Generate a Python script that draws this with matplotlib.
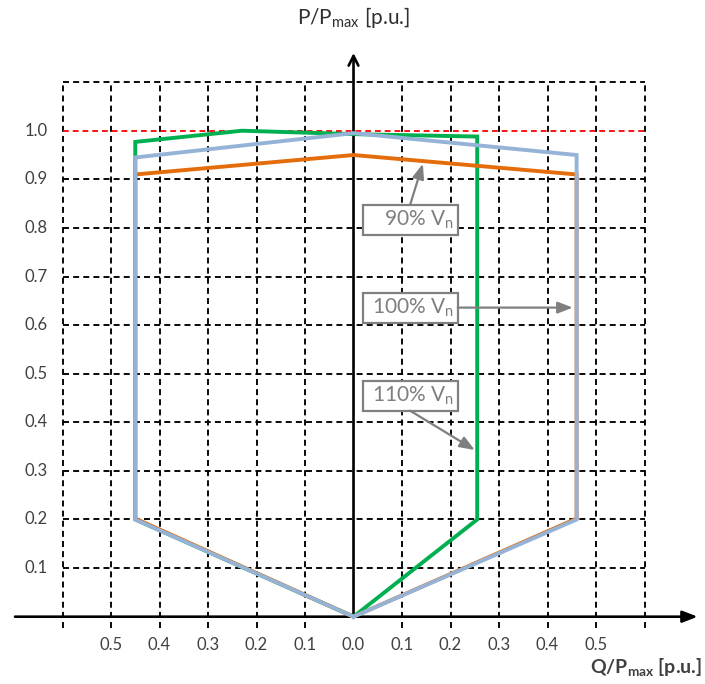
import matplotlib.pyplot as plt
from matplotlib.patches import Rectangle

plt.rcParams['font.family'] = ['Lato', 'DejaVu Sans']
plt.rcParams['mathtext.default'] = 'regular'

# capability curves, Q/Pmax (negative = left side) vs P/Pmax
q_90 = [0, 0.46, 0.46, 0, -0.45, -0.45, 0]
p_90 = [0, 0.202, 0.91, 0.95, 0.91, 0.202, 0]
q_100 = [0, 0.46, 0.46, 0, -0.45, -0.45, 0]
p_100 = [0, 0.2, 0.95, 0.995, 0.945, 0.2, 0]
q_110 = [0, 0.255, 0.255, 0, -0.23, -0.45, -0.45, 0]
p_110 = [0, 0.2, 0.988, 0.993, 1.0, 0.977, 0.2, 0]

p_limit = 1.0
x_grid = [-0.6, -0.5, -0.4, -0.3, -0.2, -0.1, 0.1, 0.2, 0.3, 0.4, 0.5, 0.6]
y_grid = [0.1, 0.2, 0.3, 0.4, 0.5, 0.6, 0.7, 0.8, 0.9, 1.1]
x_ticks = [-0.5, -0.4, -0.3, -0.2, -0.1, 0.0, 0.1, 0.2, 0.3, 0.4, 0.5]
x_tick_labels = ["0.5", "0.4", "0.3", "0.2", "0.1", "0.0", "0.1", "0.2", "0.3", "0.4", "0.5"]
y_ticks = [0.1, 0.2, 0.3, 0.4, 0.5, 0.6, 0.7, 0.8, 0.9, 1.0]
y_tick_labels = ["0.1", "0.2", "0.3", "0.4", "0.5", "0.6", "0.7", "0.8", "0.9", "1.0"]

# annotation boxes: label, box centre, arrow tail, arrow head
notes = [
    ("90% V$_n$", (0.1175, 0.816), (0.1165, 0.847), (0.143, 0.932)),
    ("100% V$_n$", (0.1175, 0.636), (0.215, 0.636), (0.452, 0.636)),
    ("110% V$_n$", (0.1175, 0.455), (0.1165, 0.424), (0.25, 0.343)),
]

fig = plt.figure(figsize=(7.05, 6.84), dpi=100)
ax = fig.add_axes([0, 0, 1, 1])
ax.set_xlim(-0.7289, 0.7247)
ax.set_ylim(-0.1385, 1.269)
ax.axis("off")

grid_style = dict(color="black", lw=1.35, linestyle=(0, (3.2, 2.2)), zorder=1)
for x in x_grid:
    ax.plot([x, x], [-0.023, 1.1], **grid_style)
for y in y_grid:
    ax.plot([-0.6, 0.6], [y, y], **grid_style)

ax.plot([-0.6, 0.6], [p_limit, p_limit], color="#ff0000", lw=1.3,
        linestyle=(0, (3.2, 2.2)), zorder=2)

# axes arrows
ax.annotate("", xy=(0.7095, 0), xytext=(-0.698, 0),
            arrowprops=dict(arrowstyle="-|>,head_length=0.9,head_width=0.35",
                            color="black", lw=1.9, shrinkA=0, shrinkB=0), zorder=3)
ax.annotate("", xy=(0, 1.16), xytext=(0, 0),
            arrowprops=dict(arrowstyle="->,head_length=0.7,head_width=0.35",
                            color="black", lw=1.9, shrinkA=0, shrinkB=0), zorder=3)

ax.plot(q_110, p_110, color="#00b050", lw=2.8, zorder=4, solid_joinstyle="miter")
ax.plot(q_90, p_90, color="#e46c0a", lw=2.8, zorder=5, solid_joinstyle="miter")
ax.plot(q_100, p_100, color="#95b3d7", lw=2.8, zorder=6, solid_joinstyle="miter")

for x, lab in zip(x_ticks, x_tick_labels):
    ax.text(x, -0.058, lab, ha="center", va="center", fontsize=12, color="#404040")
for y, lab in zip(y_ticks, y_tick_labels):
    ax.text(-0.63, y, lab, ha="right", va="center", fontsize=12, color="#404040")

ax.text(0, 1.232, "P/P$_{max}$ [p.u.]", ha="center", va="center", fontsize=15, color="#303030")
ax.text(0.7186, -0.103, "Q/P$_{max}$ [p.u.]", ha="right", va="center", fontsize=14,
        color="#404040", fontweight="bold")

bw, bh = 0.196, 0.062
for lab, (cx, cy), tail, head in notes:
    ax.add_patch(Rectangle((cx - bw / 2, cy - bh / 2), bw, bh, facecolor="white",
                           edgecolor="#808080", lw=1.6, zorder=7))
    ax.text(cx + bw / 2 - 0.008, cy, lab, ha="right", va="center", fontsize=15,
            color="#7f7f7f", zorder=8)
    ax.annotate("", xy=head, xytext=tail,
                arrowprops=dict(arrowstyle="-|>,head_length=0.9,head_width=0.35",
                                color="#7f7f7f", lw=1.6, shrinkA=0, shrinkB=0), zorder=7)

fig.savefig("out.png", dpi=100)
